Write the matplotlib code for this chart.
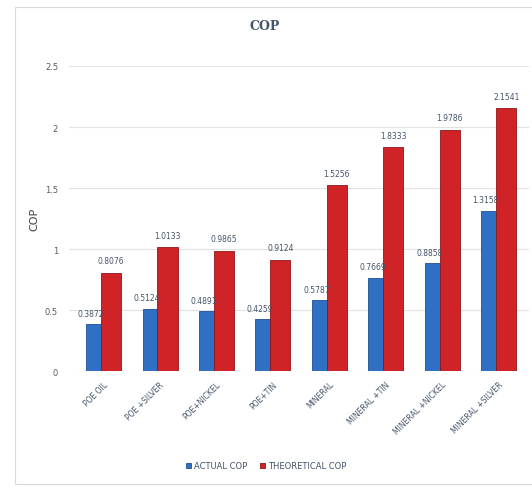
import numpy as np
import matplotlib.pyplot as plt
from matplotlib.patches import Rectangle

categories = ['POE OIL', 'POE +SILVER', 'POE+NICKEL', 'POE+TIN', 'MINERAL',
              'MINERAL +TIN', 'MINERAL +NICKEL', 'MINERAL +SILVER']
actual_cop = [0.3872, 0.5124, 0.4891, 0.4259, 0.5787, 0.7669, 0.8858, 1.3158]
theoretical_cop = [0.8076, 1.0133, 0.9865, 0.9124, 1.5256, 1.8333, 1.9786, 2.1541]
yticks = [0, 0.5, 1, 1.5, 2, 2.5]
ytick_labels = ['0', '0.5', '1', '1.5', '2', '2.5']

blue = '#2f6fc4'
red = '#cf2327'
txt = '#44546a'

fig = plt.figure(figsize=(5.32, 4.89), dpi=100)
# outer chart border
fig.patches.append(Rectangle((0.028, 0.008), 0.99, 0.975, transform=fig.transFigure,
                             fill=False, edgecolor='#d9d9d9', linewidth=0.8))

ax = fig.add_axes([0.13, 0.239, 0.865, 0.624])
x = np.arange(len(categories))

b1 = ax.bar(x - 0.17, actual_cop, width=0.26, color=blue, edgecolor='#1f4f94',
            linewidth=0.6, zorder=3)
b2 = ax.bar(x + 0.14, theoretical_cop, width=0.36, color=red, edgecolor='#8e1518',
            linewidth=0.6, zorder=3)

for rect, v in zip(b1, actual_cop):
    ax.text(rect.get_x() + rect.get_width() / 2 - 0.05, v + 0.05, f'{v:.4f}',
            ha='center', va='bottom', fontsize=5.5, color=txt)
for rect, v in zip(b2, theoretical_cop):
    ax.text(rect.get_x() + rect.get_width() / 2, v + 0.06, f'{v:.4f}',
            ha='center', va='bottom', fontsize=5.5, color=txt)

ax.set_ylim(0, 2.5)
ax.set_xlim(-0.6, 7.55)
ax.set_yticks(yticks)
ax.set_yticklabels(ytick_labels, fontsize=6, color='#595959')
ax.set_xticks(x)
ax.set_xticklabels(categories, rotation=45, ha='right', rotation_mode='anchor',
                   fontsize=5.5, color=txt)
ax.tick_params(length=0, pad=8)
ax.tick_params(axis='x', pad=6)
ax.yaxis.grid(True, color='#e3e3e3', linewidth=0.8, zorder=0)
for s in ax.spines.values():
    s.set_visible(False)
ax.set_ylabel('COP', fontsize=8, color='#404040')

fig.text(0.497, 0.945, 'COP', ha='center', va='center', fontsize=9,
         fontweight='bold', color='#44546a', family='DejaVu Serif')

fig.legend([b1, b2], ['ACTUAL COP', 'THEORETICAL COP'], loc='center',
           bbox_to_anchor=(0.5, 0.045), ncol=2, frameon=False, fontsize=6,
           handlelength=0.6, handleheight=0.6, handletextpad=0.4, columnspacing=1.5,
           labelcolor=txt)

plt.savefig('out.png', dpi=100)
